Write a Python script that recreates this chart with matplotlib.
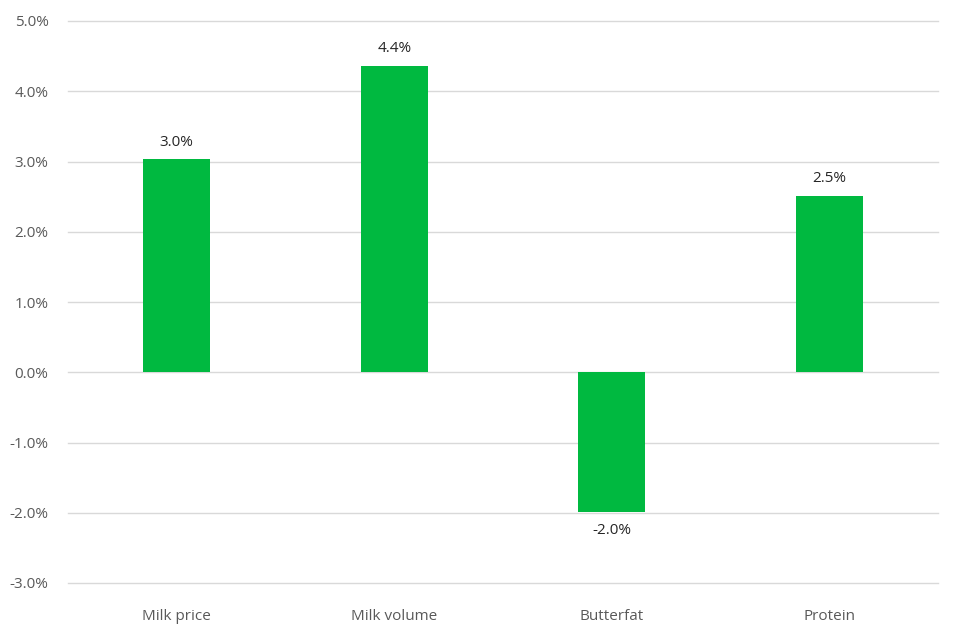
import matplotlib.pyplot as plt
from matplotlib.ticker import FuncFormatter

categories = ["Milk price", "Milk volume", "Butterfat", "Protein"]
changes = [3.03, 4.36, -1.99, 2.51]
labels = ["3.0%", "4.4%", "-2.0%", "2.5%"]

plt.rcParams['font.family'] = ['Open Sans', 'DejaVu Sans']

fig = plt.figure(figsize=(9.6, 6.4), dpi=100)
ax = fig.add_axes([68/960, 1 - 583/640, 870/960, 562/640])

x = range(len(categories))
bars = ax.bar(x, changes, width=0.31, color="#00b940", zorder=3)

for bar, val, lab in zip(bars, changes, labels):
    cx = bar.get_x() + bar.get_width() / 2
    if val >= 0:
        ax.annotate(lab, (cx, val), xytext=(0, 7), textcoords="offset points",
                    ha="center", va="bottom", fontsize=11, color="#262626")
    else:
        ax.annotate(lab, (cx, val), xytext=(0, -8), textcoords="offset points",
                    ha="center", va="top", fontsize=11, color="#262626")

ax.set_xlim(-0.5, len(categories) - 0.5)
ax.set_ylim(-3, 5)
ax.set_yticks(range(-3, 6))
ax.yaxis.set_major_formatter(FuncFormatter(lambda v, p: "{:.1f}%".format(v)))
ax.set_xticks(list(x))
ax.set_xticklabels(categories)

ax.grid(axis="y", color="#d9d9d9", linewidth=1, zorder=0)
for gl in ax.get_ygridlines():
    gl.set_clip_on(False)
for s in ax.spines.values():
    s.set_visible(False)
ax.tick_params(axis="both", length=0, labelsize=11, colors="#595959")
ax.tick_params(axis="y", pad=14)
ax.tick_params(axis="x", pad=19)

fig.savefig("out.png", dpi=100)
